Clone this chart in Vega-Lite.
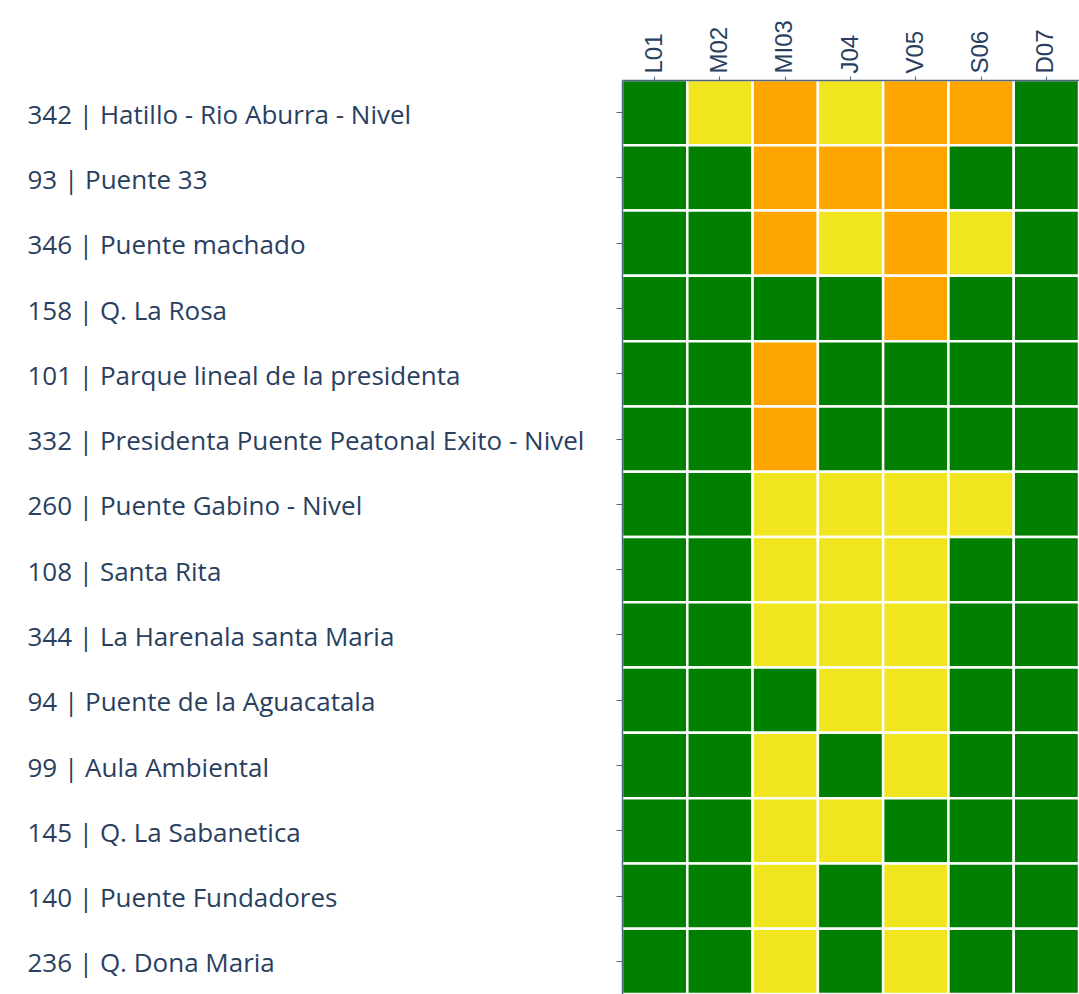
{
  "$schema": "https://vega.github.io/schema/vega-lite/v6.json",
  "autosize": "none",
  "padding": {"left": 622, "top": 80, "right": 0, "bottom": 0},
  "width": 457,
  "height": 914,
  "background": "white",
  "config": {"view": {"stroke": null}},
  "data": {"values": [
    {"s": "342 | Hatillo - Rio Aburra - Nivel", "d": "L01", "v": "verde"},
    {"s": "342 | Hatillo - Rio Aburra - Nivel", "d": "M02", "v": "amarillo"},
    {"s": "342 | Hatillo - Rio Aburra - Nivel", "d": "MI03", "v": "naranja"},
    {"s": "342 | Hatillo - Rio Aburra - Nivel", "d": "J04", "v": "amarillo"},
    {"s": "342 | Hatillo - Rio Aburra - Nivel", "d": "V05", "v": "naranja"},
    {"s": "342 | Hatillo - Rio Aburra - Nivel", "d": "S06", "v": "naranja"},
    {"s": "342 | Hatillo - Rio Aburra - Nivel", "d": "D07", "v": "verde"},
    {"s": "93 | Puente 33", "d": "L01", "v": "verde"},
    {"s": "93 | Puente 33", "d": "M02", "v": "verde"},
    {"s": "93 | Puente 33", "d": "MI03", "v": "naranja"},
    {"s": "93 | Puente 33", "d": "J04", "v": "naranja"},
    {"s": "93 | Puente 33", "d": "V05", "v": "naranja"},
    {"s": "93 | Puente 33", "d": "S06", "v": "verde"},
    {"s": "93 | Puente 33", "d": "D07", "v": "verde"},
    {"s": "346 | Puente machado", "d": "L01", "v": "verde"},
    {"s": "346 | Puente machado", "d": "M02", "v": "verde"},
    {"s": "346 | Puente machado", "d": "MI03", "v": "naranja"},
    {"s": "346 | Puente machado", "d": "J04", "v": "amarillo"},
    {"s": "346 | Puente machado", "d": "V05", "v": "naranja"},
    {"s": "346 | Puente machado", "d": "S06", "v": "amarillo"},
    {"s": "346 | Puente machado", "d": "D07", "v": "verde"},
    {"s": "158 | Q. La Rosa", "d": "L01", "v": "verde"},
    {"s": "158 | Q. La Rosa", "d": "M02", "v": "verde"},
    {"s": "158 | Q. La Rosa", "d": "MI03", "v": "verde"},
    {"s": "158 | Q. La Rosa", "d": "J04", "v": "verde"},
    {"s": "158 | Q. La Rosa", "d": "V05", "v": "naranja"},
    {"s": "158 | Q. La Rosa", "d": "S06", "v": "verde"},
    {"s": "158 | Q. La Rosa", "d": "D07", "v": "verde"},
    {"s": "101 | Parque lineal de la presidenta", "d": "L01", "v": "verde"},
    {"s": "101 | Parque lineal de la presidenta", "d": "M02", "v": "verde"},
    {"s": "101 | Parque lineal de la presidenta", "d": "MI03", "v": "naranja"},
    {"s": "101 | Parque lineal de la presidenta", "d": "J04", "v": "verde"},
    {"s": "101 | Parque lineal de la presidenta", "d": "V05", "v": "verde"},
    {"s": "101 | Parque lineal de la presidenta", "d": "S06", "v": "verde"},
    {"s": "101 | Parque lineal de la presidenta", "d": "D07", "v": "verde"},
    {"s": "332 | Presidenta Puente Peatonal Exito - Nivel", "d": "L01", "v": "verde"},
    {"s": "332 | Presidenta Puente Peatonal Exito - Nivel", "d": "M02", "v": "verde"},
    {"s": "332 | Presidenta Puente Peatonal Exito - Nivel", "d": "MI03", "v": "naranja"},
    {"s": "332 | Presidenta Puente Peatonal Exito - Nivel", "d": "J04", "v": "verde"},
    {"s": "332 | Presidenta Puente Peatonal Exito - Nivel", "d": "V05", "v": "verde"},
    {"s": "332 | Presidenta Puente Peatonal Exito - Nivel", "d": "S06", "v": "verde"},
    {"s": "332 | Presidenta Puente Peatonal Exito - Nivel", "d": "D07", "v": "verde"},
    {"s": "260 | Puente Gabino - Nivel", "d": "L01", "v": "verde"},
    {"s": "260 | Puente Gabino - Nivel", "d": "M02", "v": "verde"},
    {"s": "260 | Puente Gabino - Nivel", "d": "MI03", "v": "amarillo"},
    {"s": "260 | Puente Gabino - Nivel", "d": "J04", "v": "amarillo"},
    {"s": "260 | Puente Gabino - Nivel", "d": "V05", "v": "amarillo"},
    {"s": "260 | Puente Gabino - Nivel", "d": "S06", "v": "amarillo"},
    {"s": "260 | Puente Gabino - Nivel", "d": "D07", "v": "verde"},
    {"s": "108 | Santa Rita", "d": "L01", "v": "verde"},
    {"s": "108 | Santa Rita", "d": "M02", "v": "verde"},
    {"s": "108 | Santa Rita", "d": "MI03", "v": "amarillo"},
    {"s": "108 | Santa Rita", "d": "J04", "v": "amarillo"},
    {"s": "108 | Santa Rita", "d": "V05", "v": "amarillo"},
    {"s": "108 | Santa Rita", "d": "S06", "v": "verde"},
    {"s": "108 | Santa Rita", "d": "D07", "v": "verde"},
    {"s": "344 | La Harenala santa Maria", "d": "L01", "v": "verde"},
    {"s": "344 | La Harenala santa Maria", "d": "M02", "v": "verde"},
    {"s": "344 | La Harenala santa Maria", "d": "MI03", "v": "amarillo"},
    {"s": "344 | La Harenala santa Maria", "d": "J04", "v": "amarillo"},
    {"s": "344 | La Harenala santa Maria", "d": "V05", "v": "amarillo"},
    {"s": "344 | La Harenala santa Maria", "d": "S06", "v": "verde"},
    {"s": "344 | La Harenala santa Maria", "d": "D07", "v": "verde"},
    {"s": "94 | Puente de la Aguacatala", "d": "L01", "v": "verde"},
    {"s": "94 | Puente de la Aguacatala", "d": "M02", "v": "verde"},
    {"s": "94 | Puente de la Aguacatala", "d": "MI03", "v": "verde"},
    {"s": "94 | Puente de la Aguacatala", "d": "J04", "v": "amarillo"},
    {"s": "94 | Puente de la Aguacatala", "d": "V05", "v": "amarillo"},
    {"s": "94 | Puente de la Aguacatala", "d": "S06", "v": "verde"},
    {"s": "94 | Puente de la Aguacatala", "d": "D07", "v": "verde"},
    {"s": "99 | Aula Ambiental", "d": "L01", "v": "verde"},
    {"s": "99 | Aula Ambiental", "d": "M02", "v": "verde"},
    {"s": "99 | Aula Ambiental", "d": "MI03", "v": "amarillo"},
    {"s": "99 | Aula Ambiental", "d": "J04", "v": "verde"},
    {"s": "99 | Aula Ambiental", "d": "V05", "v": "amarillo"},
    {"s": "99 | Aula Ambiental", "d": "S06", "v": "verde"},
    {"s": "99 | Aula Ambiental", "d": "D07", "v": "verde"},
    {"s": "145 | Q. La Sabanetica", "d": "L01", "v": "verde"},
    {"s": "145 | Q. La Sabanetica", "d": "M02", "v": "verde"},
    {"s": "145 | Q. La Sabanetica", "d": "MI03", "v": "amarillo"},
    {"s": "145 | Q. La Sabanetica", "d": "J04", "v": "amarillo"},
    {"s": "145 | Q. La Sabanetica", "d": "V05", "v": "verde"},
    {"s": "145 | Q. La Sabanetica", "d": "S06", "v": "verde"},
    {"s": "145 | Q. La Sabanetica", "d": "D07", "v": "verde"},
    {"s": "140 | Puente Fundadores", "d": "L01", "v": "verde"},
    {"s": "140 | Puente Fundadores", "d": "M02", "v": "verde"},
    {"s": "140 | Puente Fundadores", "d": "MI03", "v": "amarillo"},
    {"s": "140 | Puente Fundadores", "d": "J04", "v": "verde"},
    {"s": "140 | Puente Fundadores", "d": "V05", "v": "amarillo"},
    {"s": "140 | Puente Fundadores", "d": "S06", "v": "verde"},
    {"s": "140 | Puente Fundadores", "d": "D07", "v": "verde"},
    {"s": "236 | Q. Dona Maria", "d": "L01", "v": "verde"},
    {"s": "236 | Q. Dona Maria", "d": "M02", "v": "verde"},
    {"s": "236 | Q. Dona Maria", "d": "MI03", "v": "amarillo"},
    {"s": "236 | Q. Dona Maria", "d": "J04", "v": "verde"},
    {"s": "236 | Q. Dona Maria", "d": "V05", "v": "amarillo"},
    {"s": "236 | Q. Dona Maria", "d": "S06", "v": "verde"},
    {"s": "236 | Q. Dona Maria", "d": "D07", "v": "verde"}
  ]},
  "mark": {"type": "rect", "stroke": "white", "strokeWidth": 2.5},
  "encoding": {
    "x": {
      "field": "d", "type": "nominal", "sort": null, "title": null,
      "scale": {"paddingInner": 0, "paddingOuter": 0},
      "axis": {
        "orient": "top", "labelAngle": -90, "labelFont": "Liberation Sans",
        "labelFontSize": 24, "labelColor": "#2a3f5f", "labelPadding": 3,
        "tickSize": 4, "tickColor": "#506784", "domainColor": "#506784", "domainWidth": 1.5
      }
    },
    "y": {
      "field": "s", "type": "nominal", "sort": null, "title": null,
      "scale": {"paddingInner": 0, "paddingOuter": 0},
      "axis": {
        "labelAlign": "left", "labelPadding": 589, "labelLimit": 700, "labelOffset": 3,
        "labelFont": "Open Sans", "labelFontSize": 26, "labelColor": "#2a3f5f",
        "tickSize": 6, "tickColor": "#506784", "domainColor": "#506784", "domainWidth": 1.5
      }
    },
    "color": {
      "field": "v", "type": "nominal", "legend": null,
      "scale": {"domain": ["verde", "amarillo", "naranja"], "range": ["#007f00", "#f1e520", "#ffa500"]}
    }
  }
}
